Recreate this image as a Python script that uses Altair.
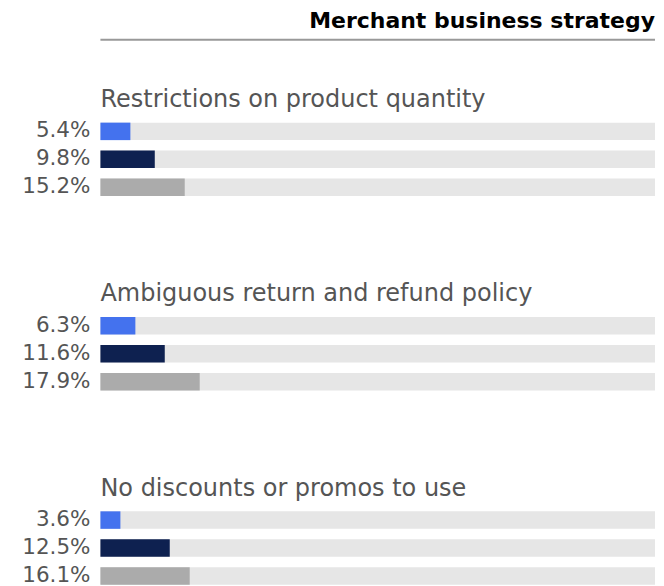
import altair as alt
import pandas as pd

title_text = "Merchant business strategy"
categories = [
    "Restrictions on product quantity",
    "Ambiguous return and refund policy",
    "No discounts or promos to use",
]
series = ["Series 1", "Series 2", "Series 3"]
values = [
    [5.4, 9.8, 15.2],
    [6.3, 11.6, 17.9],
    [3.6, 12.5, 16.1],
]
colors = ["#4472ee", "#0e2150", "#ababab"]
track_color = "#e6e6e6"
FONT = "DejaVu Sans"
W = 555


def panel(cat, vals):
    df = pd.DataFrame({
        "series": series,
        "value": vals,
        "full": [100] * len(vals),
        "label": [f"{v}%" for v in vals],
    })
    base = alt.Chart(df).encode(
        y=alt.Y("series:N", sort=series, axis=None,
                scale=alt.Scale(paddingInner=0.375, paddingOuter=0))
    )
    xs = alt.Scale(domain=[0, 100])
    track = base.mark_bar(color=track_color).encode(
        x=alt.X("full:Q", scale=xs, axis=None))
    bars = base.mark_bar().encode(
        x=alt.X("value:Q", scale=xs, axis=None),
        color=alt.Color("series:N", scale=alt.Scale(domain=series, range=colors), legend=None),
    )
    labels = base.mark_text(align="right", baseline="middle", dx=-10, font=FONT,
                            fontSize=21.5, color="#555555").encode(
        x=alt.value(0), text="label:N")
    return alt.layer(track, bars, labels).properties(
        width=W, height=alt.Step(28),
        title=alt.TitleParams(cat, anchor="start", frame="group", baseline="bottom",
                              offset=-15.5, font=FONT, fontSize=24, fontWeight="normal",
                              color="#555555"),
    )


header = alt.Chart(pd.DataFrame({"t": [title_text]})).mark_rule(
    color="#999999", strokeWidth=2).encode(
    x=alt.value(0), x2=alt.value(W), y=alt.value(0)
).properties(
    width=W, height=1,
    title=alt.TitleParams(title_text, anchor="end", frame="group", baseline="bottom",
                          offset=-16.4, font=FONT, fontSize=22, fontWeight="bold",
                          color="#000000"),
)

panels = alt.vconcat(*[panel(c, v) for c, v in zip(categories, values)], spacing=83.5)

chart = alt.vconcat(header, panels, spacing=47).properties(
    padding={"left": 13.5, "top": 1.5, "right": 0, "bottom": 0}
).configure_view(stroke=None)

chart.save("out.html", embed_options={"renderer": "svg", "actions": False})
